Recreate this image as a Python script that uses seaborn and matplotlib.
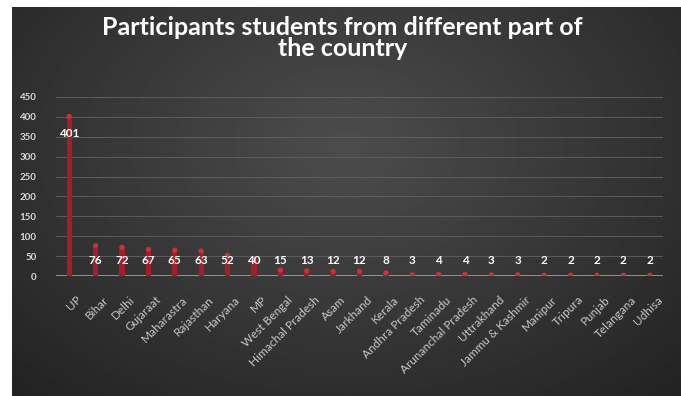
import numpy as np
import pandas as pd
import seaborn as sns
from matplotlib import pyplot as plt
from matplotlib.transforms import ScaledTranslation

states = ['UP', 'Bihar', 'Delhi', 'Gujaraat', 'Maharastra', 'Rajasthan', 'Haryana', 'MP',
          'West Bengal', 'Himachal Pradesh', 'Asam', 'Jarkhand', 'Kerala', 'Andhra Pradesh',
          'Taminadu', 'Arunanchal Pradesh', 'Uttrakhand', 'Jammu & Kashmir', 'Manipur',
          'Tripura', 'Punjab', 'Telangana', 'Udhisa']
students = [401, 76, 72, 67, 65, 63, 52, 40, 15, 13, 12, 12, 8, 3, 4, 4, 3, 3, 2, 2, 2, 2, 2]
y_ticks = [0, 50, 100, 150, 200, 250, 300, 350, 400, 450]

df = pd.DataFrame({'state': states, 'students': students})

sns.set_theme(style='dark')
plt.rcParams['font.family'] = ['Lato', 'DejaVu Sans']

fig = plt.figure(figsize=(6.81, 3.96), dpi=100)
fig.patch.set_facecolor('white')

# dark radial gradient panel behind everything
bg = fig.add_axes([12 / 681, -0.01, 1 - 12 / 681, 389 / 396 + 0.01], zorder=0)
yy, xx = np.mgrid[0:1:200j, 0:1:300j]
r = np.sqrt(((xx - 0.5) / 0.75) ** 2 + ((yy - 0.35) / 0.9) ** 2)
bg.imshow(0.30 - 0.17 * np.clip(r, 0, 1), cmap='gray', vmin=0, vmax=1,
          aspect='auto', extent=[0, 1, 0, 1], origin='upper')
bg.set_xlim(0, 1)
bg.set_ylim(0, 1)
bg.set_facecolor('#222222')
bg.set_xticks([])
bg.set_yticks([])
for s in bg.spines.values():
    s.set_visible(False)

ax = fig.add_axes([56 / 681, 120 / 396, 607 / 681, 179 / 396], zorder=1)
ax.patch.set_alpha(0)
sns.barplot(data=df, x='state', y='students', color='#a51d26', width=0.2,
            saturation=1, edgecolor='none', linewidth=0, ax=ax, zorder=3)
# cylinder caps
ax.scatter(np.arange(len(states)), df['students'], s=14, color='#cf2f38',
           edgecolor='none', zorder=4)

for i, v in enumerate(students):
    ypos = v - 44 if v > 100 else 40
    ax.text(i, ypos, str(v), ha='center', va='center', color='white',
            fontsize=8.5, fontweight='bold', zorder=5)

ax.set_ylim(0, 450)
ax.set_xlim(-0.5, len(states) - 0.5)
ax.set_yticks(y_ticks)
ax.set_yticklabels([str(t) for t in y_ticks], color='#d9d9d9', fontsize=7, fontweight='bold')
ax.yaxis.grid(True, color='#5c5c5c', linewidth=0.7, zorder=0)
ax.xaxis.grid(False)
ax.set_xticks(range(len(states)))
ax.set_xticklabels(states, rotation=45, ha='right', rotation_mode='anchor',
                   color='#c8c8c8', fontsize=8.5)
ax.tick_params(axis='x', length=0, pad=13)
ax.tick_params(axis='y', length=0, pad=14)
shift = ScaledTranslation(5 / 72, 0, fig.dpi_scale_trans)
for lbl in ax.get_xticklabels():
    lbl.set_transform(lbl.get_transform() + shift)
ax.axhline(0, color='#9a9a9a', linewidth=1.3, zorder=2)
ax.set_xlabel('')
ax.set_ylabel('')
for s in ax.spines.values():
    s.set_visible(False)

fig.text(0.503, 0.905, 'Participants students from different part of\nthe country',
         ha='center', va='center', color='white', fontsize=18, fontweight='bold',
         linespacing=0.9)

fig.savefig('out.png', dpi=100)
